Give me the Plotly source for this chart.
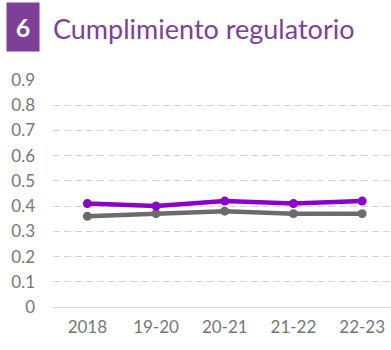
import plotly.graph_objects as go

# Compliance index by period
periods = ["2018", "19-20", "20-21", "21-22", "22-23"]
serie_principal = [0.41, 0.40, 0.42, 0.41, 0.42]
serie_referencia = [0.36, 0.37, 0.38, 0.37, 0.37]
y_ticks = [0, 0.1, 0.2, 0.3, 0.4, 0.5, 0.6, 0.7, 0.8, 0.9]
y_tick_text = ["0", "0.1", "0.2", "0.3", "0.4", "0.5", "0.6", "0.7", "0.8", "0.9"]

PURPLE = "#8a00c8"
GREY = "#6b6b6b"
BRAND = "#7d3f98"

W, H = 391, 350
L, R, T, B = 53, 0, 80, 43
pw, ph = W - L - R, H - T - B

fig = go.Figure()
fig.add_trace(go.Scatter(
    x=periods, y=serie_referencia, mode="lines+markers",
    line=dict(color=GREY, width=4.5), marker=dict(size=9, color=GREY),
    showlegend=False, hoverinfo="skip"))
fig.add_trace(go.Scatter(
    x=periods, y=serie_principal, mode="lines+markers",
    line=dict(color=PURPLE, width=4.5), marker=dict(size=9, color=PURPLE),
    showlegend=False, hoverinfo="skip"))

def px_x(p):
    return (p - L) / pw

def px_y(p):
    return (H - B - p) / ph

fig.add_annotation(
    x=px_x(23), y=px_y(27), xref="paper", yref="paper",
    text="<b>6</b>", showarrow=False, width=32, height=48,
    bgcolor=BRAND, font=dict(family="Lato", size=25, color="white"),
    xanchor="center", yanchor="middle", borderpad=0)
fig.add_annotation(
    x=px_x(51), y=px_y(28), xref="paper", yref="paper",
    text="Cumplimiento regulatorio", showarrow=False,
    font=dict(family="Lato", size=27, color=BRAND),
    xanchor="left", yanchor="middle")

fig.update_layout(
    width=W, height=H,
    margin=dict(l=L, r=R, t=T, b=B),
    paper_bgcolor="white", plot_bgcolor="white",
    font=dict(family="Lato", color="#767676", size=17),
    xaxis=dict(
        type="category", range=[-0.5, 4.42], showgrid=False,
        showline=False, zeroline=False, ticks="", ticklabelstandoff=8,
        tickfont=dict(size=17, color="#767676")),
    yaxis=dict(
        range=[0, 0.9], tickvals=y_ticks, ticktext=y_tick_text,
        showgrid=True, gridcolor="#d4d4d4", griddash="7px,4px", gridwidth=1,
        zeroline=True, zerolinecolor="#d9d9d9", zerolinewidth=1,
        showline=False, ticks="", ticklabelstandoff=17,
        tickfont=dict(size=17, color="#767676")),
)

fig.write_html("out.html")
